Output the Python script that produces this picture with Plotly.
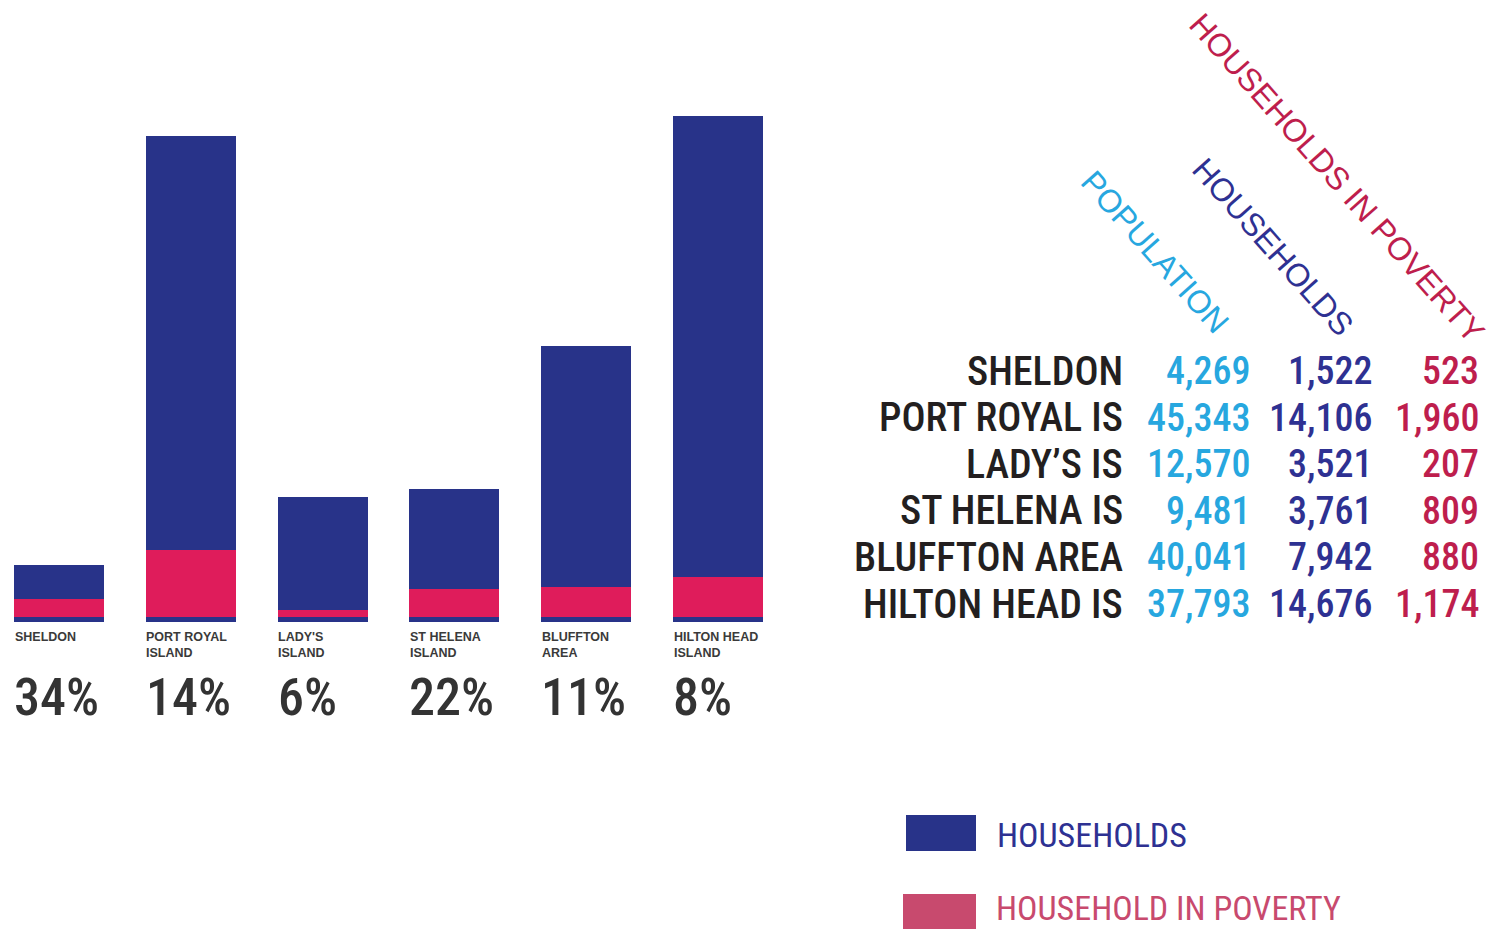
import plotly.graph_objects as go

# ---------------- data ----------------
bar_labels = ["SHELDON", "PORT ROYAL<br>ISLAND", "LADY'S<br>ISLAND", "ST HELENA<br>ISLAND", "BLUFFTON<br>AREA", "HILTON HEAD<br>ISLAND"]
table_labels = ["SHELDON", "PORT ROYAL IS", "LADY\u2019S IS", "ST HELENA IS", "BLUFFTON AREA", "HILTON HEAD IS"]
population = [4269, 45343, 12570, 9481, 40041, 37793]
households = [1522, 14106, 3521, 3761, 7942, 14676]
poverty = [523, 1960, 207, 809, 880, 1174]
headers = ["POPULATION", "HOUSEHOLDS", "HOUSEHOLDS IN POVERTY"]
legend_labels = ["HOUSEHOLDS", "HOUSEHOLD IN POVERTY"]

W, H = 1497, 929
BLUE = "#283389"
PINK = "#DF1C5B"
POP_C = "#27A7DF"
HH_C = "#2E3192"
POV_C = "#BE1E4D"
LEG_PINK = "#C84A6E"
DARK = "#231F20"
COND = "Roboto Condensed, DejaVu Sans Condensed, sans-serif"
REG = "Liberation Sans, Arial, sans-serif"


def px(x):
    return x / W


def py(y):
    return 1 - y / H


BAR_W = 0.683
PAD = 146  # bars extend slightly below zero
xs = list(range(len(households)))

fig = go.Figure()
fig.add_trace(go.Bar(x=xs, y=[h + PAD for h in households], base=[-PAD] * len(xs),
                     width=BAR_W, marker=dict(color=BLUE, line=dict(width=0)),
                     name=legend_labels[0], showlegend=False))
fig.add_trace(go.Bar(x=xs, y=poverty, base=[0] * len(xs),
                     width=BAR_W, marker=dict(color=PINK, line=dict(width=0)),
                     name=legend_labels[1], showlegend=False))

ann = []
for i, (lab, hh, pv) in enumerate(zip(bar_labels, households, poverty)):
    ann.append(dict(x=i - BAR_W / 2 - 0.01, y=py(628), xref="x", yref="paper", xanchor="left", yanchor="top",
                    text=f"<b>{lab}</b>", showarrow=False, align="left",
                    font=dict(family=REG, size=12.5, color="#3a3a3a")))
    pct = round(pv / hh * 100)
    ann.append(dict(x=i - BAR_W / 2 - 0.015, y=py(697), xref="x", yref="paper", xanchor="left", yanchor="middle",
                    text=f"{pct}%", showarrow=False,
                    font=dict(family=COND, size=52, color="#333333", weight=500)))

# table
cols = [(1125, None, DARK), (1252, population, POP_C), (1374, households, HH_C), (1481, poverty, POV_C)]
for i, lab in enumerate(table_labels):
    yy = py(371 + 46.6 * i)
    for xr, vals, col in cols:
        txt = lab if vals is None else f"{vals[i]:,}"
        size = 40 if vals is None else 38
        ann.append(dict(x=px(xr), y=yy, xref="paper", yref="paper", xanchor="right", yanchor="middle",
                        text=txt, showarrow=False, font=dict(family=COND, size=size, color=col, weight=500)))

# rotated headers
for text, cx, cy, col in [(headers[0], 1155, 252, POP_C),
                          (headers[1], 1273, 247, HH_C),
                          (headers[2], 1337, 178, POV_C)]:
    ann.append(dict(x=px(cx), y=py(cy), xref="paper", yref="paper", xanchor="center", yanchor="middle",
                    text=text, textangle=48.5, showarrow=False, font=dict(family=REG, size=32, color=col)))

# legend
ann.append(dict(x=px(995), y=py(835), xref="paper", yref="paper", xanchor="left", yanchor="middle",
                text=legend_labels[0], showarrow=False, font=dict(family=COND, size=34, color=HH_C)))
ann.append(dict(x=px(995), y=py(929), xref="paper", yref="paper", xanchor="left", yanchor="bottom",
                text=legend_labels[1], showarrow=False, borderpad=0,
                font=dict(family=COND, size=34, color=LEG_PINK)))
shapes = [
    dict(type="rect", xref="paper", yref="paper", x0=px(906), x1=px(976), y0=py(851), y1=py(815),
         fillcolor=BLUE, line=dict(width=0)),
    dict(type="rect", xref="paper", yref="paper", x0=px(903), x1=px(976), y0=py(929), y1=py(894),
         fillcolor=LEG_PINK, line=dict(width=0)),
]

fig.update_layout(
    width=W, height=H, margin=dict(l=0, r=0, t=0, b=0),
    paper_bgcolor="white", plot_bgcolor="white",
    barmode="overlay", bargap=0,
    xaxis=dict(domain=[0, 780 / W], range=[-0.4477, 5.470], visible=False, fixedrange=True),
    yaxis=dict(domain=[0, 1], range=[-9141, 18078], visible=False, fixedrange=True),
    annotations=ann, shapes=shapes, showlegend=False,
)
fig.write_html("out.html", config={"displayModeBar": False},
               post_script="document.body.style.margin='0';")
